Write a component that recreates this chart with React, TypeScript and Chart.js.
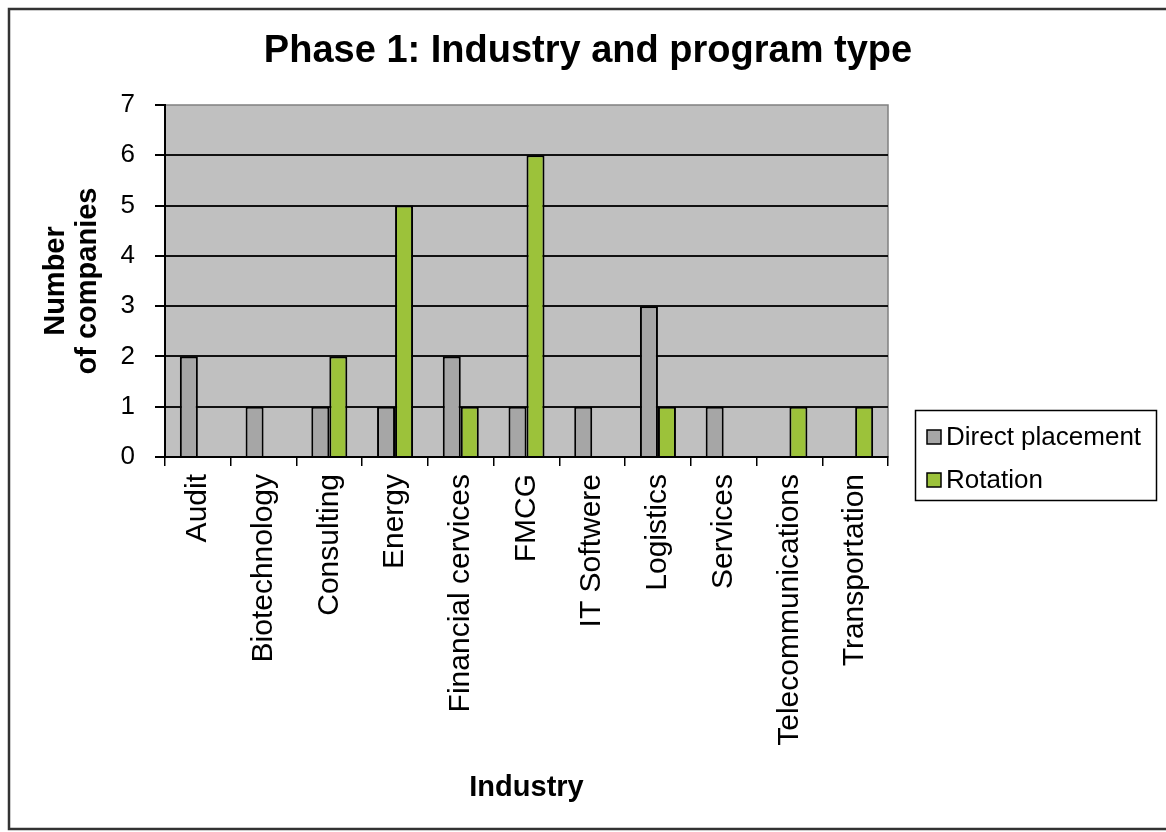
import React, { useEffect, useRef } from "react";
import { Chart, registerables } from "chart.js";

Chart.register(...registerables);

const categories = [
  "Audit",
  "Biotechnology",
  "Consulting",
  "Energy",
  "Financial cervices",
  "FMCG",
  "IT Softwere",
  "Logistics",
  "Services",
  "Telecommunications",
  "Transportation",
];
const directPlacement = [2, 1, 1, 1, 2, 1, 1, 3, 1, 0, 0];
const rotation = [0, 0, 2, 5, 1, 6, 0, 1, 0, 1, 1];
const seriesNames = ["Direct placement", "Rotation"];
const seriesColors = ["#A6A6A6", "#9CC23A"];
const chartTitle = "Phase 1: Industry and program type";
const yTitleLines = ["Number", "of companies"];
const xTitle = "Industry";
const yMax = 7;

const FONT = "'Liberation Sans', Arial, sans-serif";

const decorPlugin = {
  id: "decor",
  beforeDraw(chart: any) {
    const { ctx, chartArea: a, width, height } = chart;
    ctx.save();
    ctx.fillStyle = "#ffffff";
    ctx.fillRect(0, 0, width, height);
    ctx.strokeStyle = "#333333";
    ctx.lineWidth = 2.5;
    ctx.strokeRect(9, 9, width + 20, 820);
    ctx.fillStyle = "#C0C0C0";
    ctx.fillRect(a.left, a.top, a.right - a.left, a.bottom - a.top);
    ctx.strokeStyle = "#808080";
    ctx.lineWidth = 1.5;
    ctx.strokeRect(a.left, a.top, a.right - a.left, a.bottom - a.top);
    ctx.restore();
  },
  afterDraw(chart: any) {
    const { ctx, chartArea: a } = chart;
    ctx.save();
    ctx.fillStyle = "#000";
    ctx.textAlign = "center";
    ctx.textBaseline = "middle";
    ctx.font = `bold 38px ${FONT}`;
    ctx.fillText(chartTitle, 588, 52);
    ctx.font = `bold 29px ${FONT}`;
    ctx.fillText(xTitle, (a.left + a.right) / 2, 788);
    const cy = (a.top + a.bottom) / 2;
    const xs = [56, 88];
    yTitleLines.forEach((t, i) => {
      ctx.save();
      ctx.translate(xs[i], cy);
      ctx.rotate(-Math.PI / 2);
      ctx.fillText(t, 0, 0);
      ctx.restore();
    });
    // legend
    ctx.strokeStyle = "#000";
    ctx.lineWidth = 1.5;
    ctx.strokeRect(915.5, 410.5, 241, 90);
    ctx.textAlign = "left";
    ctx.font = `26px ${FONT}`;
    const rows = [437, 480];
    seriesNames.forEach((n, i) => {
      ctx.fillStyle = seriesColors[i];
      ctx.fillRect(927, rows[i] - 7, 14, 14);
      ctx.strokeStyle = "#000";
      ctx.lineWidth = 1.5;
      ctx.strokeRect(927, rows[i] - 7, 14, 14);
      ctx.fillStyle = "#000";
      ctx.fillText(n, 946, rows[i] + 1);
    });
    ctx.restore();
  },
};

export default function App() {
  const ref = useRef<HTMLCanvasElement>(null);
  useEffect(() => {
    if (!ref.current) return;
    const chart = new Chart(ref.current, {
      type: "bar",
      data: {
        labels: categories,
        datasets: [
          {
            label: seriesNames[0],
            data: directPlacement,
            backgroundColor: seriesColors[0],
            borderColor: "#000",
            borderWidth: 2,
            categoryPercentage: 0.548,
            barPercentage: 1,
          },
          {
            label: seriesNames[1],
            data: rotation,
            backgroundColor: seriesColors[1],
            borderColor: "#000",
            borderWidth: 2,
            categoryPercentage: 0.548,
            barPercentage: 1,
          },
        ],
      },
      options: {
        responsive: false,
        animation: false,
        devicePixelRatio: 1,
        layout: { padding: { top: 105, right: 278, left: 0, bottom: 0 } },
        plugins: {
          legend: { display: false },
          title: { display: false },
          tooltip: { enabled: false },
        },
        scales: {
          x: {
            grid: {
              offset: true,
              drawOnChartArea: false,
              tickLength: 9,
              color: "#000",
              lineWidth: 1.5,
            },
            border: { color: "#000", width: 2 },
            ticks: {
              minRotation: 90,
              maxRotation: 90,
              autoSkip: false,
              padding: 8,
              color: "#000",
              font: { family: FONT, size: 30 },
            },
            afterFit(scale: any) {
              scale.height = 375;
            },
          },
          y: {
            min: 0,
            max: yMax,
            grid: {
              tickLength: 10,
              color: (c: any) => (c.tick && c.tick.value === yMax ? "rgba(0,0,0,0)" : "#111"),
              tickColor: "#000",
              lineWidth: 2,
            },
            border: { color: "#000", width: 2 },
            ticks: {
              stepSize: 1,
              padding: 20,
              color: "#000",
              font: { family: FONT, size: 26 },
            },
            afterFit(scale: any) {
              scale.width = 165;
            },
          },
        },
      },
      plugins: [decorPlugin],
    });
    return () => chart.destroy();
  }, []);
  return (
    <div style={{ position: "absolute", left: 0, top: 0, width: 1166, height: 832 }}>
      <canvas ref={ref} width={1166} height={832} style={{ width: 1166, height: 832 }} />
    </div>
  );
}
